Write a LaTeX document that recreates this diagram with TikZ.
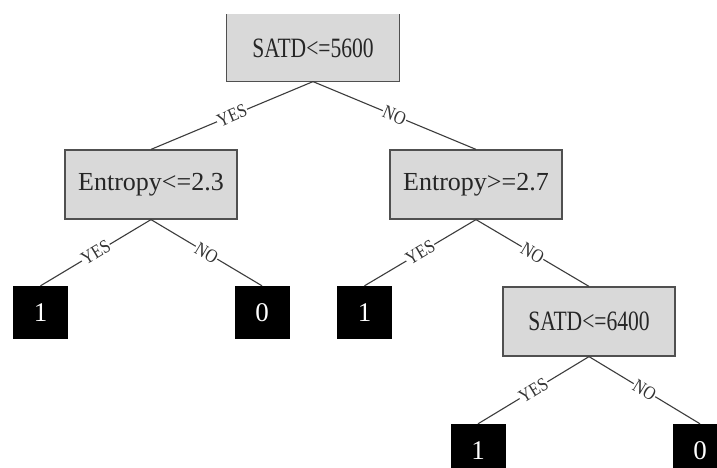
\documentclass[tikz,border=0pt]{standalone}
\usepackage{fontspec}
\setmainfont{Liberation Serif}
\newfontfamily\satdfont[FakeStretch=0.77]{Liberation Serif}
\newfontfamily\entfont{Liberation Serif}
\newfontfamily\labfont[FakeStretch=0.85]{Liberation Serif}
\definecolor{boxgray}{RGB}{217,217,217}
\definecolor{edgegray}{RGB}{60,60,60}
\definecolor{bordergray}{RGB}{80,80,80}
\tikzset{
  testbox/.style={draw=bordergray, line width=1.2pt, fill=boxgray,
    minimum width=172pt, minimum height=69pt, inner sep=0pt,
    font=\entfont\fontsize{26}{28}\selectfont, text=black!85},
  satdtext/.style={font=\satdfont\fontsize{28}{30}\selectfont},
  leafbox/.style={fill=black, minimum width=55pt, minimum height=53pt, inner sep=0pt,
    font=\fontsize{27}{30}\selectfont, text=white},
  branch/.style={draw=edgegray, line width=1.1pt},
  edgelab/.style={fill=white, inner sep=0.8pt, sloped,
    font=\labfont\fontsize{19}{20}\selectfont, text=black!80}
}
\begin{document}
\begin{tikzpicture}[x=1pt,y=-1pt]
\clip (0,0) rectangle (717,468);
\fill[white] (0,0) rectangle (717,468);
% root (top edge cropped off)
\node[testbox, draw=none, minimum height=96pt] (root) at (313,33) {};
\node[satdtext, text=black!85] (roottext) at (313,48) {SATD<=5600};
\draw[draw=bordergray, line width=1.2pt] (root.north west) -- (root.south west) -- (root.south east) -- (root.north east);
\fill[white] (0,0) rectangle (717,14);
% level 1
\node[testbox] (L) at (151,184.5) {Entropy<=2.3};
\node[testbox] (R) at (476,184.5) {Entropy>=2.7};
% level 2
\node[leafbox] (LL) at (40.5,312.5) {1};
\node[leafbox] (LR) at (262,312.5) {0};
\node[leafbox] (RL) at (364.5,312.5) {1};
\node[testbox, satdtext] (RR) at (589,321.5) {SATD<=6400};
% level 3
\node[leafbox] (RRL) at (478,450.5) {1};
\node[leafbox] (RRR) at (700,450.5) {0};
% edges
\draw[branch] (root.south) -- node[edgelab] {YES} (L.north);
\draw[branch] (root.south) -- node[edgelab] {NO} (R.north);
\draw[branch] (L.south) -- node[edgelab] {YES} (LL.north);
\draw[branch] (L.south) -- node[edgelab] {NO} (LR.north);
\draw[branch] (R.south) -- node[edgelab] {YES} (RL.north);
\draw[branch] (R.south) -- node[edgelab] {NO} (RR.north);
\draw[branch] (RR.south) -- node[edgelab] {YES} (RRL.north);
\draw[branch] (RR.south) -- node[edgelab] {NO} (RRR.north);
\end{tikzpicture}
\end{document}
